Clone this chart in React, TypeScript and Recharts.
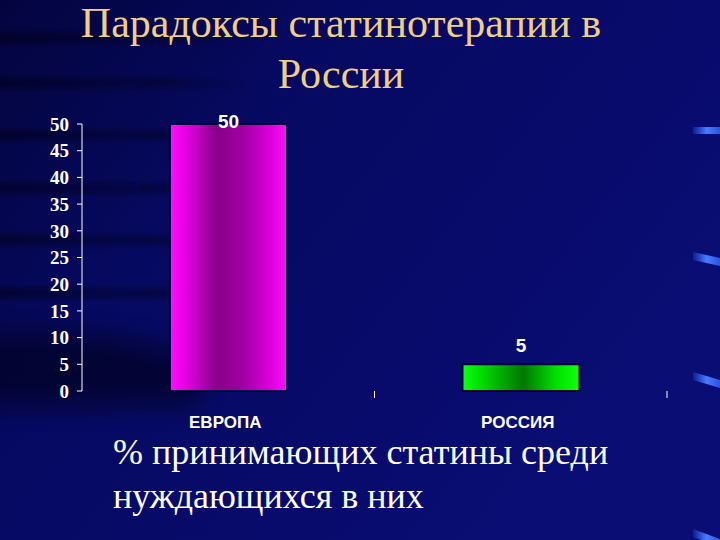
import React from 'react';
import { BarChart, Bar, XAxis, YAxis, Cell, LabelList } from 'recharts';

const categories = ['ЕВРОПА', 'РОССИЯ'];
const values = [50, 5];
const yTicks = [0, 5, 10, 15, 20, 25, 30, 35, 40, 45, 50];
const titleLines = ['Парадоксы статинотерапии в', 'России'];
const noteLines = ['% принимающих статины среди', 'нуждающихся в них'];

const data = categories.map((name, i) => ({ name, value: values[i] }));
const GRADS = ['gradEurope', 'gradRussia'];

const stripeYs = [38, 83, 135, 188, 240, 293];
const dashYs = [130, 258, 378, 535];

const SERIF = "'Liberation Serif', 'Times New Roman', serif";
const SANS = "'Liberation Sans', Arial, sans-serif";

const Background: React.FC = () => (
  <svg width={720} height={540} style={{ position: 'absolute', top: 0, left: 0 }}>
    <defs>
      <linearGradient id="bg" x1="0" y1="0" x2="1" y2="0.6">
        <stop offset="0%" stopColor="#03043e" />
        <stop offset="35%" stopColor="#060960" />
        <stop offset="100%" stopColor="#0a0d74" />
      </linearGradient>
      <linearGradient id="stripeFade" x1="0" y1="0" x2="1" y2="0">
        <stop offset="0%" stopColor="#000010" stopOpacity={0.7} />
        <stop offset="60%" stopColor="#000010" stopOpacity={0.4} />
        <stop offset="100%" stopColor="#000010" stopOpacity={0} />
      </linearGradient>
      <linearGradient id="dash" x1="0" y1="0" x2="1" y2="0">
        <stop offset="0%" stopColor="#3366ff" stopOpacity={0.2} />
        <stop offset="50%" stopColor="#4a7bff" />
        <stop offset="100%" stopColor="#2a55dd" />
      </linearGradient>
      <filter id="blur" x="-20%" y="-200%" width="140%" height="500%">
        <feGaussianBlur stdDeviation="3" />
      </filter>
      <filter id="blurBig" x="-20%" y="-50%" width="140%" height="200%">
        <feGaussianBlur stdDeviation="12" />
      </filter>
    </defs>
    <rect width={720} height={540} fill="url(#bg)" />
    {stripeYs.map((y) => (
      <rect key={y} x={-10} y={y - 4} width={260} height={8} fill="url(#stripeFade)" filter="url(#blur)" />
    ))}
    <path d="M -20 335 Q 100 325 200 360 L 200 405 L -20 405 Z" fill="#000010" opacity={0.55} filter="url(#blurBig)" />
    {dashYs.map((y, i) => (
      <path
        key={y}
        d={i === 0 ? `M 693 ${y - 3} L 720 ${y - 3} L 720 ${y + 4} L 693 ${y + 4} Z` : `M 693 ${y - 6} L 720 ${y + i * 2 - 2} L 720 ${y + i * 2 + 6} L 693 ${y + 2} Z`}
        fill="url(#dash)"
      />
    ))}
    <text x={341} y={37} textAnchor="middle" fontFamily={SERIF} fontSize={42} fill="#f0cf85">
      {titleLines[0]}
    </text>
    <text x={341} y={88} textAnchor="middle" fontFamily={SERIF} fontSize={42} fill="#f0cf85">
      {titleLines[1]}
    </text>
    <text x={113} y={464} fontFamily={SERIF} fontSize={36} fill="#ffffff">
      {noteLines[0]}
    </text>
    <text x={113} y={508} fontFamily={SERIF} fontSize={36} fill="#ffffff">
      {noteLines[1]}
    </text>
  </svg>
);

const CategoryTick = (props: any) => {
  const { x, y, payload } = props;
  const half = payload && payload.offset ? payload.offset : 0;
  return (
    <g>
      <line x1={x + half} y1={y} x2={x + half} y2={y + 7} stroke="#ffffff" strokeWidth={1} />
      <text x={x - 3} y={y + 37} textAnchor="middle" fontFamily={SANS} fontWeight="bold" fontSize={17} fill="#ffffff">
        {payload.value}
      </text>
    </g>
  );
};

const ValueLabel = (props: any) => {
  const { x, y, width, value } = props;
  const ty = Math.max(y - 12, 128);
  return (
    <text x={x + width / 2} y={ty} textAnchor="middle" fontFamily={SANS} fontWeight="bold" fontSize={19} fill="#ffffff">
      {value}
    </text>
  );
};

export default function App() {
  return (
    <div style={{ position: 'absolute', top: 0, left: 0, width: 720, height: 540, overflow: 'hidden' }}>
      <Background />
      <div style={{ position: 'absolute', top: 0, left: 0 }}>
        <BarChart width={720} height={540} data={data} margin={{ top: 124, right: 53, left: 0, bottom: 109 }}>
          <defs>
            <linearGradient id="gradEurope" x1="0" y1="0" x2="1" y2="0">
              <stop offset="0%" stopColor="#ff10ff" />
              <stop offset="12%" stopColor="#e800e8" />
              <stop offset="40%" stopColor="#880088" />
              <stop offset="62%" stopColor="#a000a0" />
              <stop offset="85%" stopColor="#d800d8" />
              <stop offset="100%" stopColor="#ff10ff" />
            </linearGradient>
            <linearGradient id="gradRussia" x1="0" y1="0" x2="1" y2="0">
              <stop offset="0%" stopColor="#10ff10" />
              <stop offset="15%" stopColor="#00e000" />
              <stop offset="52%" stopColor="#007800" />
              <stop offset="80%" stopColor="#00e000" />
              <stop offset="100%" stopColor="#10ff10" />
            </linearGradient>
          </defs>
          <XAxis
            dataKey="name"
            axisLine={false}
            tickLine={false}
            tickSize={0}
            tickMargin={0}
            height={40}
            interval={0}
            tick={<CategoryTick />}
          />
          <YAxis
            type="number"
            domain={[0, 50]}
            ticks={yTicks}
            interval={0}
            width={82}
            axisLine={{ stroke: '#ffffff', strokeWidth: 1 }}
            tickLine={{ stroke: '#ffffff', strokeWidth: 1 }}
            tickSize={5}
            tickMargin={8}
            tick={{ fill: '#ffffff', fontFamily: SERIF, fontWeight: 'bold', fontSize: 19 }}
          />
          <Bar dataKey="value" barSize={117} isAnimationActive={false} stroke="#00003a" strokeWidth={2}>
            {data.map((_, i) => (
              <Cell key={`cell-${i}`} fill={`url(#${GRADS[i]})`} />
            ))}
            <LabelList dataKey="value" content={<ValueLabel />} />
          </Bar>
        </BarChart>
      </div>
    </div>
  );
}
